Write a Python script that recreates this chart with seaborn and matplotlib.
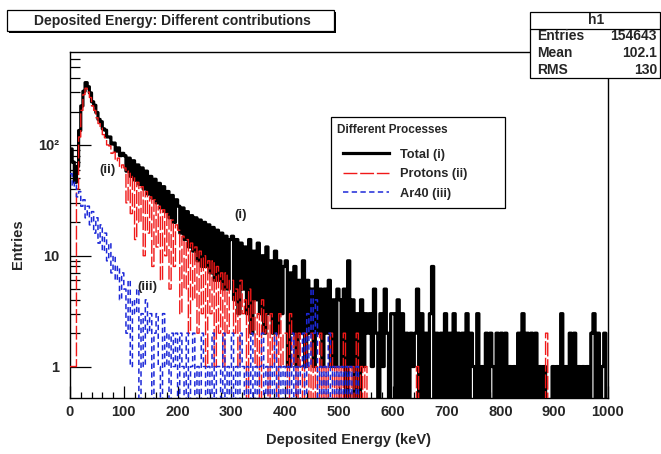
import numpy as np
import pandas as pd
import matplotlib
matplotlib.use("Agg")
import matplotlib.pyplot as plt
from matplotlib.patches import Rectangle
from matplotlib.lines import Line2D
from matplotlib.ticker import FixedLocator, MultipleLocator, NullFormatter
import seaborn as sns

# ---- histogram definition (keV) ----
E_MIN, E_MAX, BIN_W = 0, 1000, 4

# counts per 4 keV bin, one row of 25 bins per 100 keV
total_counts = [
    92, 70, 46, 64, 135, 225, 305, 365, 335, 295, 245, 228, 196, 170, 162, 140, 136, 118, 118, 102, 104, 88, 94, 80, 84,
    80, 58, 76, 52, 72, 48, 66, 44, 62, 40, 58, 36, 52, 33, 49, 30, 45, 27, 42, 25, 38, 22, 35, 20, 32,
    28, 16, 27, 14, 25, 12, 23, 11, 22, 9, 21, 8, 20, 8, 19, 7, 18, 6, 17, 6, 16, 5, 15, 5, 14,
    15, 4, 14, 3, 13, 5, 12, 3, 14, 2, 11, 4, 13, 3, 10, 2, 12, 3, 9, 2, 11, 2, 9, 3, 8,
    9, 1, 7, 2, 8, 1, 6, 2, 9, 1, 6, 2, 5, 1, 6, 2, 5, 1, 5, 2, 6, 1, 4, 1, 5,
    4, 1, 5, 0, 9, 1, 4, 0, 3, 0, 4, 1, 3, 2, 3, 1, 5, 2, 0, 3, 1, 5, 2, 0, 3,
    3, 0, 4, 0, 3, 0, 2, 0, 2, 1, 2, 5, 0, 3, 0, 2, 0, 3, 8, 0, 2, 0, 2, 0, 3,
    0, 2, 0, 3, 0, 2, 0, 2, 0, 3, 0, 2, 1, 0, 3, 0, 1, 0, 2, 0, 2, 1, 0, 2, 0,
    2, 0, 2, 0, 1, 0, 1, 0, 2, 0, 3, 0, 2, 0, 2, 0, 2, 0, 1, 0, 1, 0, 0, 0, 1,
    0, 1, 0, 3, 0, 1, 0, 2, 0, 2, 0, 1, 0, 1, 0, 1, 0, 2, 3, 0, 2, 0, 1, 2, 0,
]
proton_counts = [
    1, 1, 1, 40, 118, 205, 285, 325, 300, 268, 225, 205, 176, 156, 142, 124, 116, 100, 98, 84, 86, 72, 76, 62, 66,
    62, 30, 58, 24, 52, 14, 46, 20, 42, 10, 38, 16, 34, 8, 32, 12, 28, 6, 26, 10, 24, 5, 21, 8, 19,
    17, 3, 15, 5, 14, 2, 13, 4, 12, 2, 11, 3, 10, 1, 9, 3, 9, 1, 8, 2, 7, 1, 7, 2, 6,
    6, 2, 5, 1, 6, 3, 4, 0, 5, 2, 4, 1, 3, 0, 4, 2, 3, 0, 3, 1, 2, 0, 3, 1, 2,
    2, 0, 3, 1, 2, 0, 2, 1, 0, 2, 1, 0, 2, 0, 1, 0, 2, 0, 1, 0, 1, 2, 0, 1, 0,
    1, 0, 2, 0, 1, 0, 1, 0, 2, 0, 1, 0, 1, 0, 0, 0, 0, 0, 0, 0, 0, 0, 0, 0, 0,
    0, 0, 0, 0, 0, 0, 0, 0, 0, 0, 0, 1, 0, 0, 0, 0, 0, 0, 0, 0, 0, 0, 0, 0, 0,
    0, 0, 0, 0, 0, 0, 0, 0, 0, 0, 0, 0, 0, 0, 0, 0, 0, 0, 0, 0, 0, 0, 0, 0, 0,
    0, 0, 0, 0, 0, 0, 0, 0, 0, 0, 0, 0, 0, 0, 0, 0, 0, 0, 0, 0, 0, 2, 0, 0, 0,
    0, 0, 0, 0, 0, 0, 0, 0, 0, 0, 0, 0, 0, 0, 0, 0, 0, 0, 0, 0, 0, 0, 0, 0, 0,
]
ar40_counts = [
    55, 42, 46, 34, 38, 28, 32, 22, 28, 19, 25, 16, 22, 13, 19, 11, 16, 9, 13, 7, 10, 6, 8, 4, 7,
    5, 2, 6, 1, 4, 3, 5, 0, 3, 1, 4, 2, 3, 0, 2, 3, 1, 0, 3, 1, 2, 0, 2, 1, 2,
    0, 2, 1, 0, 2, 0, 1, 2, 0, 1, 0, 2, 1, 0, 1, 0, 2, 0, 1, 1, 0, 2, 0, 1, 0,
    2, 0, 1, 0, 2, 1, 0, 1, 0, 2, 0, 1, 0, 1, 2, 0, 1, 0, 1, 0, 2, 0, 1, 0, 1,
    0, 1, 0, 2, 0, 1, 0, 1, 2, 0, 3, 1, 5, 2, 4, 0, 1, 0, 1, 0, 2, 0, 1, 0, 1,
    0, 1, 0, 1, 0, 1, 0, 0, 1, 0, 0, 0, 0, 0, 0, 0, 0, 0, 0, 0, 0, 0, 0, 0, 0,
    0, 0, 0, 0, 0, 0, 0, 0, 0, 0, 0, 0, 0, 0, 0, 0, 0, 0, 0, 0, 0, 0, 0, 0, 0,
    0, 0, 0, 0, 0, 0, 0, 0, 0, 0, 0, 0, 0, 0, 0, 0, 0, 0, 0, 0, 0, 0, 0, 0, 0,
    0, 0, 0, 0, 0, 0, 0, 0, 0, 0, 0, 0, 0, 0, 0, 0, 0, 0, 0, 0, 0, 0, 0, 0, 0,
    0, 0, 0, 0, 0, 0, 0, 0, 0, 0, 0, 0, 0, 0, 0, 0, 0, 0, 0, 0, 0, 0, 0, 0, 0,
]

series_labels = ["Total (i)", "Protons (ii)", "Ar40 (iii)"]
legend_title = "Different Processes"
plot_title = "Deposited Energy: Different contributions"
x_title = "Deposited Energy (keV)"
y_title = "Entries"
stats_name = "h1"
stats_rows = [("Entries", "154643"), ("Mean", "102.1"), ("RMS", "130")]
curve_tags = ["(i)", "(ii)", "(iii)"]

x_ticks = list(range(0, 1001, 100))
y_ticks = [1, 10, 100]
y_tick_labels = ["1", "10", "10\u00b2"]

# ---- figure ----
sns.set_theme(style="white")
plt.rcParams["font.family"] = ["Liberation Sans", "DejaVu Sans"]
plt.rcParams["path.simplify"] = False  # keep every bin edge of the step lines

W, H = 661, 454
fig = plt.figure(figsize=(W / 100, H / 100), dpi=100)
fig.patch.set_facecolor("white")


def fx(px):
    return px / W


def fy(py):
    return 1 - py / H


ax = fig.add_axes([fx(70), fy(398), fx(608) - fx(70), fy(52) - fy(398)])
ax.set_facecolor("white")

n_bins = (E_MAX - E_MIN) // BIN_W
centers = E_MIN + BIN_W * (np.arange(n_bins) + 0.5)
df = pd.DataFrame({
    "energy": centers,
    "total": total_counts,
    "protons": proton_counts,
    "ar40": ar40_counts,
})

styles = [
    ("total", "black", 2.3, "-", 2),
    ("protons", "#f01818", 1.0, (0, (10, 2)), 3),
    ("ar40", "#1c28d8", 1.1, (0, (3.5, 2.2)), 4),
]
for (col, color, lw, ls, z), lab in zip(styles, series_labels):
    sns.histplot(data=df, x="energy", weights=col, binwidth=BIN_W,
                 binrange=(E_MIN, E_MAX), element="step",
                 fill=False, color=color, linewidth=lw, linestyle=ls,
                 label=lab, zorder=z, ax=ax)
for ln in ax.get_lines():
    ln.set_snap(False)
    ln.set_solid_capstyle("projecting")

ax.set_yscale("log", nonpositive="clip")
ax.set_xlim(E_MIN, E_MAX)
ax.set_ylim(0.52, 690)
ax.set_xlabel("")
ax.set_ylabel("")

ax.xaxis.set_major_locator(FixedLocator(x_ticks))
ax.xaxis.set_minor_locator(MultipleLocator(20))
ax.set_xticklabels([str(t) for t in x_ticks])
ax.yaxis.set_major_locator(FixedLocator(y_ticks))
ax.set_yticklabels(y_tick_labels)
ax.yaxis.set_minor_locator(FixedLocator([m * d for d in (1, 10, 100) for m in range(2, 10)]))
ax.yaxis.set_minor_formatter(NullFormatter())

ax.tick_params(axis="both", which="both", direction="in", color="black",
               width=0.9, top=False, right=False, bottom=True, left=True)
ax.tick_params(axis="x", which="major", length=9, pad=5, labelsize=10.5)
ax.tick_params(axis="x", which="minor", length=4.5)
ax.tick_params(axis="y", which="major", length=15, pad=8, labelsize=10.5)
ax.tick_params(axis="y", which="minor", length=7.5)
for lbl in ax.get_xticklabels() + ax.get_yticklabels():
    lbl.set_fontweight("bold")
for sp in ax.spines.values():
    sp.set_color("black")
    sp.set_linewidth(1.0)
    sp.set_visible(True)

# axis titles
fig.text(fx(348), fy(440), x_title, ha="center", va="center",
         fontsize=10.5, fontweight="bold")
fig.text(fx(18), fy(244), y_title, ha="center", va="center", rotation=90,
         fontsize=10.5, fontweight="bold")

# curve tags
for tag, (px, py) in zip(curve_tags, [(241, 215), (107, 170), (147, 287)]):
    fig.text(fx(px), fy(py), tag, ha="center", va="center", fontsize=9.5,
             fontweight="bold", color="#222222")


def pave(x0, y0, x1, y1, shadow=2):
    if shadow:
        fig.add_artist(Rectangle((fx(x0 + shadow), fy(y1 + shadow)),
                                 fx(x1) - fx(x0), fy(y0) - fy(y1),
                                 transform=fig.transFigure, facecolor="black",
                                 edgecolor="none", zorder=5))
    fig.add_artist(Rectangle((fx(x0), fy(y1)), fx(x1) - fx(x0), fy(y0) - fy(y1),
                             transform=fig.transFigure, facecolor="white",
                             edgecolor="black", linewidth=0.9, zorder=6))


# title pave
pave(7, 10, 334, 31)
fig.text(fx(172), fy(20.5), plot_title, ha="center", va="center",
         fontsize=10, fontweight="bold", zorder=7)

# statistics pave
pave(530, 12, 660, 78, shadow=0)
fig.add_artist(Line2D([fx(530), fx(660)], [fy(29), fy(29)],
                      transform=fig.transFigure, color="black", linewidth=0.9, zorder=7))
fig.text(fx(596), fy(20.5), stats_name, ha="center", va="center",
         fontsize=10, fontweight="bold", zorder=7)
for (name, val), py in zip(stats_rows, [36, 53, 70]):
    fig.text(fx(537), fy(py), name, ha="left", va="center", fontsize=10,
             fontweight="bold", zorder=7)
    fig.text(fx(657), fy(py), val, ha="right", va="center", fontsize=10,
             fontweight="bold", zorder=7)

# legend pave: header text plus the entries of the three curves
pave(331, 117, 505, 208, shadow=1)
fig.text(fx(337), fy(130), legend_title, ha="left", va="center",
         fontsize=8.5, fontweight="bold", zorder=8)
handles = ax.get_lines()[:3]
leg = ax.legend(handles, series_labels,
                loc="upper left", bbox_to_anchor=(fx(340), fy(146)),
                bbox_transform=fig.transFigure, frameon=False,
                prop={"weight": "bold", "size": 9.2},
                handlelength=3.6, handletextpad=0.9,
                labelspacing=0.6, borderpad=0.2, borderaxespad=0)
leg.set_zorder(8)
fig.add_artist(leg)

fig.savefig("out.png", dpi=100)
